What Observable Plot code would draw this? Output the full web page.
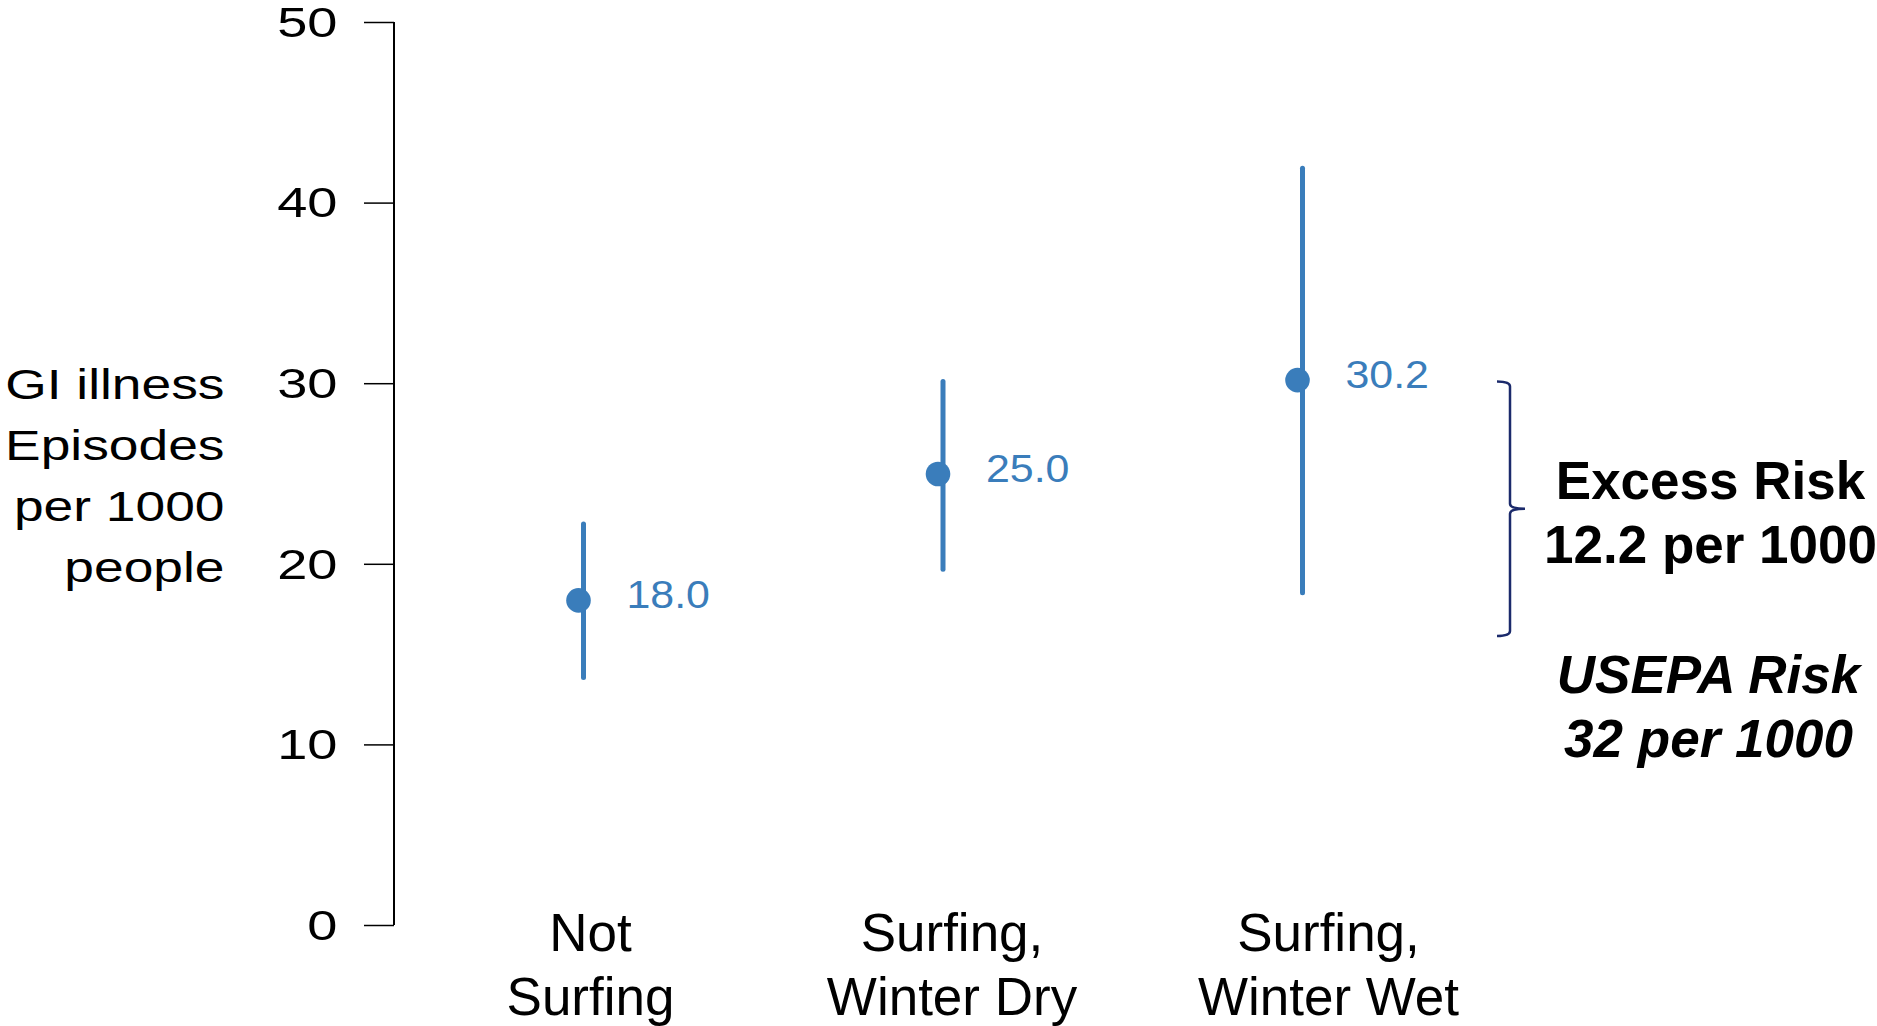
<!DOCTYPE html>
<html>
<head>
<meta charset="utf-8">
<script src="https://cdn.jsdelivr.net/npm/d3@7"></script>
<script src="https://cdn.jsdelivr.net/npm/@observablehq/plot@0.6"></script>
<style>
  html, body { margin: 0; padding: 0; background: #fff; overflow: hidden; }
  #chart svg { display: block; }
</style>
</head>
<body>
<div id="chart"></div>
<script>
// GI illness episodes per 1000 people, point estimates with intervals
const categories = ["Not\nSurfing", "Surfing,\nWinter Dry", "Surfing,\nWinter Wet"];
const estimates = [18.0, 25.0, 30.2];
const lower = [13.7, 19.7, 18.4];
const upper = [22.2, 30.1, 41.9];
const yTicks = [0, 10, 20, 30, 40, 50];
const excessSpan = [16.0, 30.1];
const excessRisk = 12.2;
const usepaRisk = 32;
const yTitle = "GI illness\nEpisodes\nper 1000\npeople";

const rows = categories.map((label, i) => ({
  pos: i + 1, label, est: estimates[i], lo: lower[i], hi: upper[i]
}));

const blue = "#3a7dbb";
const navy = "#1b2a6b";
const font = "'Liberation Sans', Arial, Helvetica, sans-serif";
const labelShift = [12, 14, 31];

// vertical axis line along the left edge of the frame
function axisLine(index, {y}, values, dims) {
  const g = d3.create("svg:g");
  g.append("line")
    .attr("x1", dims.marginLeft).attr("x2", dims.marginLeft)
    .attr("y1", y(0)).attr("y2", y(50))
    .attr("stroke", "#000").attr("stroke-width", 2);
  return g.node();
}

// bracket marking the excess-risk span beside the last category
function bracket(index, {x, y}) {
  const bx = x(rows.length) + 213;
  const top = y(excessSpan[1]);
  const bot = y(excessSpan[0]);
  const mid = (top + bot) / 2;
  const r = 5;
  const path = [
    `M${bx - 13},${top}`,
    `Q${bx},${top} ${bx},${top + r}`,
    `V${mid - r}`,
    `Q${bx},${mid} ${bx + 15},${mid}`,
    `Q${bx},${mid} ${bx},${mid + r}`,
    `V${bot - r}`,
    `Q${bx},${bot} ${bx - 13},${bot}`
  ].join(" ");
  const g = d3.create("svg:g");
  g.append("path").attr("d", path).attr("fill", "none")
    .attr("stroke", navy).attr("stroke-width", 2.5);
  return g.node();
}

const midSpan = (excessSpan[0] + excessSpan[1]) / 2;
const notes = [
  {pos: rows.length, y: midSpan, text: `Excess Risk\n${excessRisk} per 1000`}
];
const notes2 = [
  {pos: rows.length, y: midSpan, text: `USEPA Risk\n${usepaRisk} per 1000`}
];

const chart = Plot.plot({
  width: 1877,
  height: 1026,
  marginTop: 22,
  marginBottom: 101,
  marginLeft: 394,
  marginRight: 0,
  style: {fontFamily: font, background: "#fff", color: "#000", overflow: "visible"},
  x: {type: "linear", domain: [1, 3], range: [578, 1297], axis: null},
  y: {domain: [0, 50], label: null},
  marks: [
    axisLine,
    Plot.axisY({ticks: yTicks, tickSize: 30, tickFormat: () => "", label: null, stroke: "#000", strokeWidth: 1.5}),
    Plot.axisY({ticks: yTicks, tickSize: 0, tickPadding: 57, label: null, fontSize: 43, dy: 0.6, fill: "#000", fontFamily: font}),
    Plot.text([yTitle], {
      frameAnchor: "left", dx: -170, dy: -3, textAnchor: "end", lineAnchor: "middle",
      fontSize: 42, lineHeight: 1.45, fill: "#000"
    }),
    Plot.ruleX(rows, {x: "pos", y1: "lo", y2: "hi", dx: 5, stroke: blue, strokeWidth: 5, strokeLinecap: "round"}),
    Plot.dot(rows, {x: "pos", y: "est", r: 12.3, fill: blue, stroke: "none"}),
    Plot.text(rows, {
      x: "pos", y: "est", text: d => d.est.toFixed(1), dx: 48, dy: 8,
      textAnchor: "start", lineAnchor: "bottom", fill: blue, fontSize: 39
    }),
    ...rows.map((r, i) => Plot.text([r], {
      x: "pos", text: "label", frameAnchor: "bottom", lineAnchor: "top", dy: -20, dx: labelShift[i],
      textAnchor: "middle", fontSize: 53, lineHeight: 1.21, fill: "#000"
    })),
    bracket,
    Plot.text(notes, {
      x: "pos", y: "y", text: "text", dx: 413, dy: -56, lineAnchor: "top", textAnchor: "middle",
      fontSize: 53, fontWeight: "bold", lineHeight: 1.21, fill: "#000"
    }),
    Plot.text(notes2, {
      x: "pos", y: "y", text: "text", dx: 411, dy: 138, lineAnchor: "top", textAnchor: "middle",
      fontSize: 53, fontWeight: "bold", fontStyle: "italic", lineHeight: 1.21, fill: "#000"
    })
  ]
});

// widen selected texts horizontally around each label's anchor
function stretch(nodes, sx) {
  nodes.each(function() {
    const t = this.getAttribute("transform") || "";
    this.setAttribute("transform", `${t} scale(${sx},1)`);
  });
}
const texts = d3.select(chart).selectAll("text");
const tickStrings = new Set(yTicks.map(String));
const valueStrings = new Set(estimates.map(v => v.toFixed(1)));
stretch(texts.filter(function() { return tickStrings.has(this.textContent); }), 1.26);
stretch(texts.filter(function() { return this.textContent.startsWith("GI illness"); }), 1.27);
stretch(texts.filter(function() { return valueStrings.has(this.textContent); }), 1.1);

document.getElementById("chart").appendChild(chart);
</script>
</body>
</html>
